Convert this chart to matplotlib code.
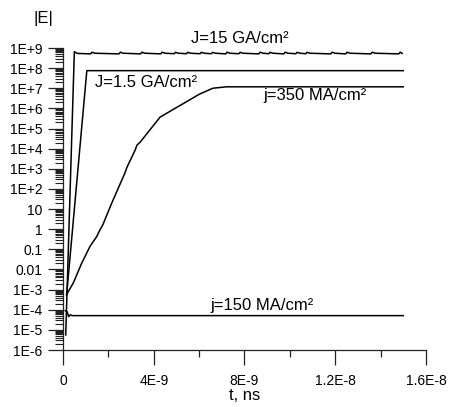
import numpy as np
import matplotlib
matplotlib.use("Agg")
import matplotlib.pyplot as plt
from matplotlib.ticker import FixedLocator, FixedFormatter, MultipleLocator, LogLocator, NullFormatter

plt.rcParams['font.family'] = ['Liberation Sans', 'DejaVu Sans']

# ---- data (time in ns, field |E|) ----
t_j15 = [0.12, 0.50, 0.62, 1.22, 1.28, 1.40, 2.47, 2.53, 2.65, 3.42, 3.48, 3.60,
         4.31, 4.37, 4.49, 4.90, 4.96, 5.08, 5.44, 5.50, 5.62, 6.04, 6.10, 6.22,
         6.54, 6.60, 6.72, 7.17, 7.23, 7.35, 7.75, 7.81, 7.93, 8.63, 8.69, 8.81,
         9.07, 9.13, 9.25, 9.73, 9.79, 9.91, 10.26, 10.32, 10.44, 10.70, 10.76, 10.88,
         11.80, 11.86, 11.98, 12.46, 12.52, 12.64, 13.57, 13.63, 13.75, 14.80, 14.86, 14.95]
E_j15 = [5.6e-6, 6.6e8, 5.4e8, 5.1e8, 6.2e8, 5.5e8, 5.1e8, 6.2e8, 5.5e8, 5.1e8, 6.2e8, 5.5e8,
         5.1e8, 6.2e8, 5.5e8, 5.2e8, 6.1e8, 5.5e8, 5.2e8, 6.1e8, 5.5e8, 5.2e8, 6.1e8, 5.5e8,
         5.2e8, 6.1e8, 5.5e8, 5.1e8, 6.2e8, 5.5e8, 5.2e8, 6.1e8, 5.5e8, 5.1e8, 6.2e8, 5.5e8,
         5.2e8, 6.1e8, 5.5e8, 5.1e8, 6.2e8, 5.5e8, 5.2e8, 6.1e8, 5.5e8, 5.2e8, 6.1e8, 5.5e8,
         5.1e8, 6.2e8, 5.5e8, 5.1e8, 6.2e8, 5.5e8, 5.1e8, 6.2e8, 5.5e8, 5.1e8, 6.2e8, 5.4e8]

t_j1p5 = [0.16, 1.05, 15.0]
E_j1p5 = [5.5e-4, 7.5e7, 7.5e7]

t_j350 = [0.16, 0.23, 0.45, 0.82, 1.19, 1.49, 1.63, 1.76, 2.15, 2.73, 2.82,
          3.18, 3.26, 3.40, 4.28, 5.03, 6.00, 6.60, 7.20, 15.0]
E_j350 = [5.5e-4, 7.9e-4, 2.1e-3, 2.0e-2, 1.4e-1, 4.4e-1, 9.3e-1, 1.7, 2.0e1, 6.2e2, 1.2e3,
          8.5e3, 1.5e4, 2.1e4, 3.7e5, 1.15e6, 5.0e6, 1.0e7, 1.18e7, 1.18e7]

t_j150 = [0.10, 0.18, 0.25, 0.32, 0.40, 15.0]
E_j150 = [9.0e-5, 8.0e-5, 4.5e-5, 5.6e-5, 5.1e-5, 5.1e-5]

x_ticks = [0, 4e-9, 8e-9, 1.2e-8, 1.6e-8]
x_labels = ['0', '4E-9', '8E-9', '1.2E-8', '1.6E-8']
y_ticks = [1e-6, 1e-5, 1e-4, 1e-3, 1e-2, 1e-1, 1, 10, 1e2, 1e3, 1e4, 1e5, 1e6, 1e7, 1e8, 1e9]
y_labels = ['1E-6', '1E-5', '1E-4', '1E-3', '0.01', '0.1', '1', '10', '1E+2', '1E+3',
            '1E+4', '1E+5', '1E+6', '1E+7', '1E+8', '1E+9']

ns = 1e-9

fig = plt.figure(figsize=(4.49, 4.07), dpi=100)
ax = fig.add_axes([63/449, 57/407, 363/449, 302/407])

for t, E in [(t_j15, E_j15), (t_j1p5, E_j1p5), (t_j350, E_j350), (t_j150, E_j150)]:
    ax.plot(np.array(t) * ns, E, color='black', lw=1.1)

ax.set_yscale('log')
ax.set_xlim(0, 1.6e-8)
ax.set_ylim(1e-6, 1e9)

ax.xaxis.set_major_locator(FixedLocator(x_ticks))
ax.xaxis.set_major_formatter(FixedFormatter(x_labels))
ax.xaxis.set_minor_locator(MultipleLocator(2e-9))
ax.yaxis.set_major_locator(FixedLocator(y_ticks))
ax.yaxis.set_major_formatter(FixedFormatter(y_labels))
ax.yaxis.set_minor_locator(LogLocator(base=10, subs=np.arange(2, 10), numticks=100))
ax.yaxis.set_minor_formatter(NullFormatter())

for s in ['top', 'right']:
    ax.spines[s].set_visible(False)
for s in ['left', 'bottom']:
    ax.spines[s].set_linewidth(0.9)
    ax.spines[s].set_color('#222222')

ax.tick_params(axis='y', which='major', direction='out', length=10.8, width=0.9,
               labelsize=10, pad=4, color='#222222')
ax.tick_params(axis='y', which='minor', direction='out', length=5.8, width=0.8, color='#222222')
ax.tick_params(axis='x', which='major', direction='out', length=10.5, width=0.9,
               labelsize=10, pad=7, color='#222222')
ax.tick_params(axis='x', which='minor', direction='out', length=5.0, width=0.9, color='#222222')

ax.set_xlabel('t, ns', fontsize=12)
ax.xaxis.set_label_coords(0.5, -0.125)
fig.text(43/449, 1 - 18.5/407, '|E|', fontsize=12, ha='center', va='center')

ax.text(7.8 * ns, 1.7e9, 'J=15 GA/cm²', fontsize=12, ha='center', va='baseline')
ax.text(3.68 * ns, 1.17e7, 'J=1.5 GA/cm²', fontsize=12, ha='center', va='baseline')
ax.text(11.1 * ns, 2.6e6, 'j=350 MA/cm²', fontsize=12, ha='center', va='baseline')
ax.text(8.78 * ns, 9.8e-5, 'j=150 MA/cm²', fontsize=12, ha='center', va='baseline')

fig.savefig('out.png', dpi=100)
